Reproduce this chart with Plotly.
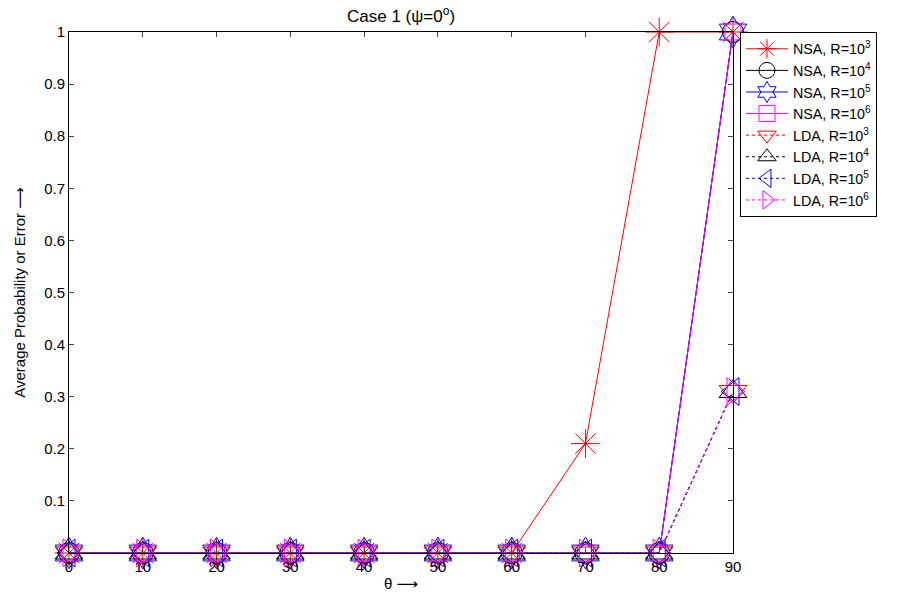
import plotly.graph_objects as go

# Incidence angle theta (degrees)
theta = [0, 10, 20, 30, 40, 50, 60, 70, 80, 90]

# Average probability / error for each method and R
nsa_r1e3 = [0, 0, 0, 0, 0, 0, 0, 0.21, 1.0, 1.0]
nsa_r1e4 = [0, 0, 0, 0, 0, 0, 0, 0, 0, 1.0]
nsa_r1e5 = [0, 0, 0, 0, 0, 0, 0, 0, 0, 1.0]
nsa_r1e6 = [0, 0, 0, 0, 0, 0, 0, 0, 0, 1.0]
lda_r1e3 = [0, 0, 0, 0, 0, 0, 0, 0, 0, 0.31]
lda_r1e4 = [0, 0, 0, 0, 0, 0, 0, 0, 0, 0.31]
lda_r1e5 = [0, 0, 0, 0, 0, 0, 0, 0, 0, 0.31]
lda_r1e6 = [0, 0, 0, 0, 0, 0, 0, 0, 0, 0.31]

y_ticks = [0.1, 0.2, 0.3, 0.4, 0.5, 0.6, 0.7, 0.8, 0.9, 1]
y_tick_text = ["0.1", "0.2", "0.3", "0.4", "0.5", "0.6", "0.7", "0.8", "0.9", "1"]

series = [
    ("NSA, R=10<sup>3</sup>", nsa_r1e3, "red", "asterisk-open", 24, "solid"),
    ("NSA, R=10<sup>4</sup>", nsa_r1e4, "black", "circle-open", 21, "solid"),
    ("NSA, R=10<sup>5</sup>", nsa_r1e5, "blue", "hexagram-open", 24, "solid"),
    ("NSA, R=10<sup>6</sup>", nsa_r1e6, "magenta", "square-open", 16, "solid"),
    ("LDA, R=10<sup>3</sup>", lda_r1e3, "red", "triangle-down-open", 24, "dot"),
    ("LDA, R=10<sup>4</sup>", lda_r1e4, "black", "triangle-up-open", 24, "dot"),
    ("LDA, R=10<sup>5</sup>", lda_r1e5, "blue", "triangle-left-open", 24, "dot"),
    ("LDA, R=10<sup>6</sup>", lda_r1e6, "magenta", "triangle-right-open", 24, "dot"),
]

fig = go.Figure()
for name, vals, color, symbol, size, dash in series:
    fig.add_trace(go.Scatter(
        x=theta, y=vals, name=name, mode="lines+markers",
        line=dict(color=color, width=1, dash=dash),
        marker=dict(symbol=symbol, size=size, color=color,
                    line=dict(color=color, width=1)),
        cliponaxis=False,
    ))

font_family = "Liberation Sans, Arial, Helvetica, sans-serif"
arrow = '<span style="font-family:DejaVu Sans">⟶</span>'

fig.update_layout(
    width=901, height=598,
    margin=dict(l=69, r=168, t=32, b=45),
    paper_bgcolor="white", plot_bgcolor="white",
    font=dict(family=font_family, size=14, color="black"),
    showlegend=True,
    legend=dict(x=1.0105, y=1.0, xanchor="left", yanchor="top",
                bordercolor="black", borderwidth=1, bgcolor="white",
                font=dict(size=14.3), tracegroupgap=0, itemwidth=42,
                entrywidth=110, entrywidthmode="pixels"),
)

# Plot title, centred over the axes
fig.add_annotation(
    text="Case 1 (ψ=0<sup>o</sup>)", xref="paper", yref="paper",
    x=0.5, y=1.0, yshift=17, xanchor="center", yanchor="middle",
    showarrow=False, font=dict(size=17, family=font_family),
)

fig.update_xaxes(
    range=[0, 90], tickvals=theta, ticks="inside", ticklen=5,
    showline=True, linecolor="black", linewidth=1, mirror="ticks",
    showgrid=False, zeroline=False, tickfont=dict(size=15),
    automargin=False,
    title=dict(text="θ " + arrow, standoff=4, font=dict(size=15)),
)
fig.update_yaxes(
    range=[0, 1], tickvals=y_ticks, ticktext=y_tick_text,
    ticks="inside", ticklen=5,
    showline=True, linecolor="black", linewidth=1, mirror="ticks",
    showgrid=False, zeroline=False, tickfont=dict(size=15),
    automargin=False,
    title=dict(text="Average Probability or Error " + arrow, standoff=14,
               font=dict(size=15)),
)

fig.write_html("out.html")
